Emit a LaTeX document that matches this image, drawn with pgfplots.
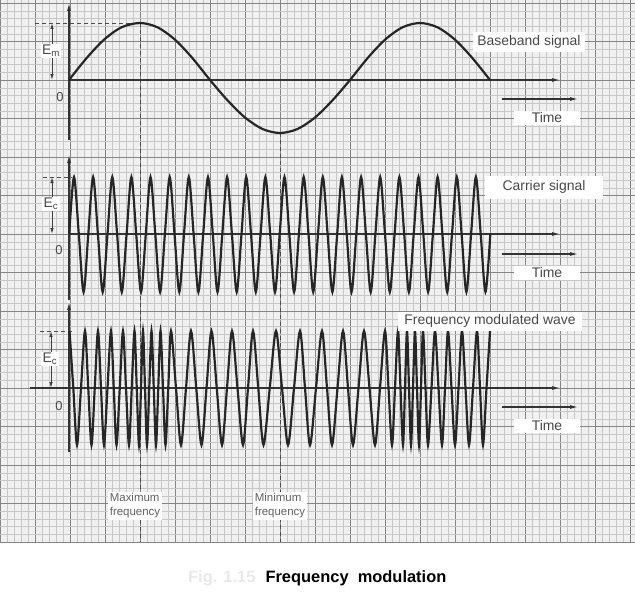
\documentclass[border=0pt]{standalone}
\usepackage{fontspec}
\setmainfont{Liberation Sans}
\usepackage{pgfplots}
\pgfplotsset{compat=1.18}
\usetikzlibrary{arrows.meta}
\tikzset{
  lbl/.style={fill=white, inner ysep=3bp, inner xsep=4bp, text=black!72, font=\fontsize{14}{16}\selectfont},
  small/.style={fill=white, inner sep=2bp, text=black!62, align=left, font=\fontsize{11.5}{14}\selectfont},
  arr/.style={line width=1.1pt, black!80, -{Latex[length=8bp,width=4bp]}},
  darr/.style={line width=0.9pt, black!75, {Latex[length=6bp,width=3.5bp]}-{Latex[length=6bp,width=3.5bp]}},
  dsh/.style={line width=0.8pt, black!70, dash pattern=on 4bp off 3bp},
  wave/.style={line width=2.2pt, black!85, smooth},
}
\begin{document}
\begin{tikzpicture}
\begin{axis}[
  scale only axis, width=635bp, height=542bp,
  xmin=0, xmax=635, ymin=0, ymax=542, y dir=reverse,
  axis line style={draw=none},
  xtick={0,35,...,630}, ytick={3,41.5,...,542.5},
  minor x tick num=4, minor y tick num=4,
  xticklabels={}, yticklabels={},
  major tick length=0pt, minor tick length=0pt,
  grid=both,
  major grid style={black!48, line width=0.6pt},
  minor grid style={black!22, line width=0.3pt},
  axis background/.style={fill=black!6},
  clip=false,
]
% ---------- dashed guide lines ----------
\draw[dsh] (35,23) -- (140,23);
\draw[dsh] (140,23) -- (140,542);
\draw[dsh] (280,133) -- (280,542);
\draw[dsh] (43,177) -- (72,177);
\draw[dsh] (40,331) -- (74,331);

% ---------- axes ----------
\draw[arr] (69,140) -- (69,3);
\draw[arr] (69,80) -- (560,80);
\draw[arr] (502,99) -- (578,99);
\draw[arr] (69,300) -- (69,155);
\draw[arr] (69,234) -- (560,234);
\draw[arr] (502,254) -- (578,254);
\draw[arr] (69,452) -- (69,302);
\draw[arr] (30,388) -- (560,388);
\draw[arr] (502,407) -- (578,407);

% ---------- baseband signal ----------
\addplot[wave] coordinates {
(69,80)(86.5,58.2)(104,39.7)(121.5,27.3)(140,23)(157.5,27.3)(175,39.7)(192.5,58.2)
(210,80)(227.5,100.3)(245,117.5)(262.5,129)(280,133)(297.5,129)(315,117.5)(332.5,100.3)
(350,80)(367.5,58.2)(385,39.7)(402.5,27.3)(420,23)(437.5,27.3)(455,39.7)(472.5,58.2)(490,80)
};

% ---------- carrier signal ----------
\addplot[wave] coordinates {
(69.2,234)(74.0,177)(78.8,234)(83.6,292)(88.3,234)(93.1,177)(97.9,234)(102.7,292)
(107.5,234)(112.3,177)(117.1,234)(121.8,292)(126.6,234)(131.4,177)(136.2,234)(141.0,292)
(145.8,234)(150.5,177)(155.3,234)(160.1,292)(164.9,234)(169.7,177)(174.5,234)(179.3,292)
(184.0,234)(188.8,177)(193.6,234)(198.4,292)(203.2,234)(208.0,177)(212.8,234)(217.5,292)
(222.3,234)(227.1,177)(231.9,234)(236.7,292)(241.5,234)(246.2,177)(251.0,234)(255.8,292)
(260.6,234)(265.4,177)(270.2,234)(275.0,292)(279.7,234)(284.5,177)(289.3,234)(294.1,292)
(298.9,234)(303.7,177)(308.5,234)(313.2,292)(318.0,234)(322.8,177)(327.6,234)(332.4,292)
(337.2,234)(341.9,177)(346.7,234)(351.5,292)(356.3,234)(361.1,177)(365.9,234)(370.7,292)
(375.4,234)(380.2,177)(385.0,234)(389.8,292)(394.6,234)(399.4,177)(404.2,234)(408.9,292)
(413.7,234)(418.5,177)(423.3,234)(428.1,292)(432.9,234)(437.6,177)(442.4,234)(447.2,292)
(452.0,234)(456.8,177)(461.6,234)(466.4,292)(471.1,234)(475.9,177)(480.7,234)(485.5,292)
(490.3,234)
};

% ---------- frequency modulated wave ----------
\addplot[wave] coordinates {
(69.5,331)(73.3,388)(77,445)(81,388)(85,331)(88.25,388)(91.5,445)(94.75,388)
(98,331)(101,388)(104,445)(107.5,388)(111,331)(113.75,388)(116.5,445)(119.75,388)
(123,331)(126,388)(129,445)(131.75,388)(134.5,331)(136.75,388)(139,445)(141,388)
(143,331)(145,388)(147,445)(149.25,388)(151.5,331)(153.75,388)(156,445)(158.25,388)
(160.5,331)(163,388)(165.5,445)(168.25,388)(171,331)(176,388)(181,445)(186,388)
(191,331)(196.25,388)(201.5,445)(206.5,388)(211.5,331)(216.75,388)(222,445)(227,388)
(232,331)(237.5,388)(243,445)(248,388)(253,331)(258.25,388)(263.5,445)(269.75,388)
(276,331)(282,388)(288,445)(294,388)(300,331)(305,388)(310,445)(316,388)
(322,331)(327,388)(332,445)(337.5,388)(343,331)(348,388)(353,445)(358.5,388)
(364,331)(369.5,388)(375,445)(380,388)(385,331)(388.5,388)(392,445)(395,388)
(398,331)(400.5,388)(403,445)(405,388)(407,331)(409,388)(411,445)(413,388)
(415,331)(417,388)(419,445)(421,388)(423,331)(425.5,388)(428,445)(431.5,388)
(435,331)(438.5,388)(442,445)(445,388)(448,331)(451.5,388)(455,445)(458.5,388)
(462,331)(465.5,388)(469,445)(473,388)(477,331)(480,388)(483,445)(486.5,388)
(490,331)
};

% ---------- amplitude markers ----------
\draw[darr] (52,23) -- (52,80);
\node[lbl, inner sep=1.5bp] at (51,51) {E\textsubscript{m}};
\draw[darr] (52,177) -- (52,234);
\node[lbl, inner sep=1.5bp] at (51,204) {E\textsubscript{c}};
\draw[darr] (51,331) -- (51,388);
\node[lbl, inner sep=1.5bp] at (50,359) {E\textsubscript{c}};
\node[text=black!72, font=\fontsize{13}{15}\selectfont] at (60,97) {0};
\node[text=black!72, font=\fontsize{13}{15}\selectfont] at (59,250) {0};
\node[text=black!72, font=\fontsize{13}{15}\selectfont] at (59,406) {0};

% ---------- labels ----------
\node[lbl] at (529,42) {Baseband signal};
\node[lbl, inner xsep=18bp, inner ysep=5bp] at (544,187) {Carrier signal};
\node[lbl, inner xsep=6bp] at (490,321) {Frequency modulated wave};
\node[lbl, inner xsep=18bp, inner ysep=2bp] at (547,118) {Time};
\node[lbl, inner xsep=18bp, inner ysep=2bp] at (547,273) {Time};
\node[lbl, inner xsep=18bp, inner ysep=2bp] at (547,426) {Time};
\node[small] at (135,506) {Maximum\\frequency};
\node[small] at (280,506) {Minimum\\frequency};

% ---------- caption ----------
\node[anchor=east, text=black!9, font=\bfseries\fontsize{16.5}{18}\selectfont] at (259,578) {Fig. 1.15};
\node[anchor=west, text=black, font=\bfseries\fontsize{16.5}{18}\selectfont] at (262,578) {Frequency\ \ modulation};
\end{axis}
\pgfresetboundingbox
\path[use as bounding box] (0,-64bp) rectangle (635bp,542bp);
\end{tikzpicture}
\end{document}
